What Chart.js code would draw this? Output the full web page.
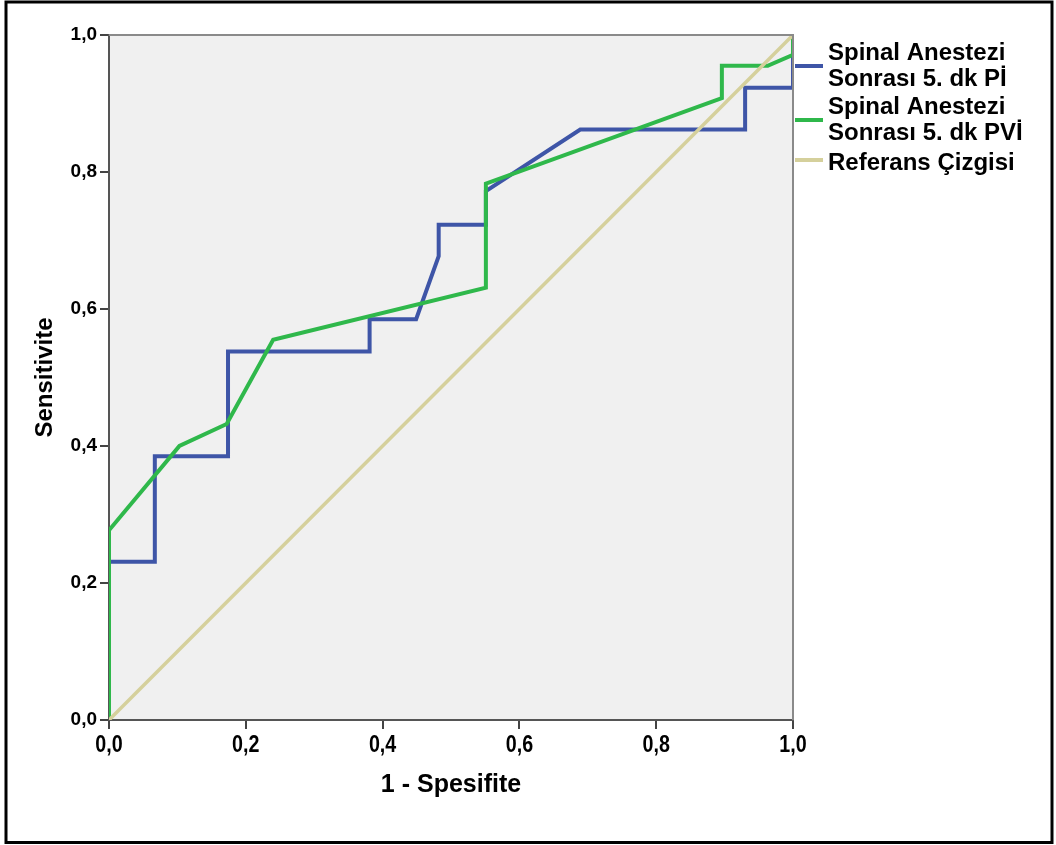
<!DOCTYPE html>
<html>
<head>
<meta charset="utf-8">
<script src="https://cdn.jsdelivr.net/npm/chart.js@4.4.1/dist/chart.umd.min.js"></script>
<style>
  html, body { margin: 0; padding: 0; background: #ffffff; }
  #wrap { width: 1056px; height: 845px; }
</style>
</head>
<body>
<div id="wrap"><canvas id="c" width="1056" height="845"></canvas></div>
<script>
// ---- data ----
const piX  = [0, 0, 0.067, 0.067, 0.174, 0.174, 0.381, 0.381, 0.449, 0.482, 0.482, 0.551, 0.551, 0.689, 0.930, 0.930, 1, 1];
const piY  = [0, 0.231, 0.231, 0.385, 0.385, 0.538, 0.538, 0.585, 0.585, 0.677, 0.723, 0.723, 0.772, 0.862, 0.862, 0.923, 0.923, 1];
const pviX = [0, 0, 0.103, 0.172, 0.240, 0.551, 0.551, 0.896, 0.896, 0.963, 1, 1];
const pviY = [0, 0.277, 0.400, 0.432, 0.555, 0.631, 0.783, 0.908, 0.955, 0.955, 0.971, 1];
const refX = [0, 1];
const refY = [0, 1];
const tickValues = [0, 0.2, 0.4, 0.6, 0.8, 1.0];
const seriesLabels = [
  ["Spinal Anestezi", "Sonrası 5. dk Pİ"],
  ["Spinal Anestezi", "Sonrası 5. dk PVİ"],
  ["Referans Çizgisi"]
];
const xTitle = "1 - Spesifite";
const yTitle = "Sensitivite";

const toPts = (xs, ys) => xs.map((x, i) => ({x: x, y: ys[i]}));
const fmt = v => Number(v).toFixed(1).replace('.', ',');

const COLORS = ['#3E55A7', '#2FB84B', '#D5D09C'];

const framePlugin = {
  id: 'frame',
  beforeDraw(chart) {
    const {ctx, chartArea: a} = chart;
    ctx.save();
    ctx.fillStyle = '#ffffff';
    ctx.fillRect(0, 0, chart.width, chart.height);
    ctx.fillStyle = '#F0F0F0';
    ctx.fillRect(a.left, a.top, a.right - a.left, a.bottom - a.top);
    ctx.restore();
  },
  afterDatasetsDraw(chart) {
    const {ctx, chartArea: a} = chart;
    ctx.save();
    ctx.strokeStyle = '#8a8a8a';
    ctx.lineWidth = 2;
    ctx.beginPath();
    ctx.moveTo(a.left, a.top);
    ctx.lineTo(a.right, a.top);
    ctx.lineTo(a.right, a.bottom);
    ctx.stroke();
    ctx.restore();
  },
  afterDraw(chart) {
    const {ctx, chartArea: a} = chart;
    ctx.save();
    // outer black frame
    ctx.strokeStyle = '#000000';
    ctx.lineWidth = 3;
    ctx.strokeRect(6, 2, 1046, 840.5);
    // condensed x tick labels (taken from the x scale ticks)
    const xs = chart.scales.x;
    ctx.fillStyle = '#000';
    ctx.font = 'bold 24px "Liberation Sans", Arial, sans-serif';
    ctx.textBaseline = 'top';
    ctx.textAlign = 'center';
    xs.ticks.forEach(t => {
      const px = xs.getPixelForValue(t.value);
      ctx.save();
      ctx.translate(px, a.bottom + 13);
      ctx.scale(0.82, 1);
      ctx.fillText(fmt(t.value), 0, 0);
      ctx.restore();
    });
    // legend
    const lineYs = [66, 120, 160];
    const textYs = [[53, 79], [107, 133], [163]];
    chart.data.datasets.forEach((ds, i) => {
      ctx.strokeStyle = ds.borderColor;
      ctx.lineWidth = 4;
      ctx.beginPath();
      ctx.moveTo(a.right + 2, lineYs[i]);
      ctx.lineTo(a.right + 30, lineYs[i]);
      ctx.stroke();
      ctx.fillStyle = '#000000';
      ctx.font = 'bold 24px "Liberation Sans", Arial, sans-serif';
      ctx.textBaseline = 'middle';
      ctx.textAlign = 'left';
      seriesLabels[i].forEach((t, j) => ctx.fillText(t, a.right + 35, textYs[i][j]));
    });
    ctx.restore();
  }
};

new Chart(document.getElementById('c'), {
  type: 'line',
  data: {
    datasets: [
      { label: seriesLabels[0].join(' '), data: toPts(piX, piY), borderColor: COLORS[0], borderWidth: 4, order: 3 },
      { label: seriesLabels[1].join(' '), data: toPts(pviX, pviY), borderColor: COLORS[1], borderWidth: 4, order: 2 },
      { label: seriesLabels[2].join(' '), data: toPts(refX, refY), borderColor: COLORS[2], borderWidth: 3.5, order: 1 }
    ]
  },
  options: {
    responsive: false,
    animation: false,
    elements: {
      line: { tension: 0, fill: false, borderJoinStyle: 'miter', borderCapStyle: 'butt' },
      point: { radius: 0, hoverRadius: 0 }
    },
    layout: { padding: { left: 0, right: 263, top: 35, bottom: 0 } },
    plugins: { legend: { display: false }, tooltip: { enabled: false } },
    scales: {
      x: {
        type: 'linear', min: 0, max: 1,
        afterFit: s => { s.height = 125; },
        afterBuildTicks: s => { s.ticks = tickValues.map(v => ({value: v})); },
        ticks: { display: false },
        grid: { drawOnChartArea: false, drawTicks: true, tickLength: 9, color: '#444', lineWidth: 2 },
        border: { display: true, color: '#555', width: 2 },
        title: {
          display: true, text: xTitle, color: '#000',
          font: { family: '"Liberation Sans", Arial, sans-serif', weight: 'bold', size: 25 },
          padding: { top: 0, bottom: 45 }
        }
      },
      y: {
        type: 'linear', min: 0, max: 1,
        afterFit: s => { s.width = 109; },
        afterBuildTicks: s => { s.ticks = tickValues.map(v => ({value: v})); },
        ticks: {
          callback: v => fmt(v),
          color: '#000',
          padding: 3,
          font: { family: '"Liberation Sans", Arial, sans-serif', weight: 'bold', size: 19 }
        },
        grid: { drawOnChartArea: false, drawTicks: true, tickLength: 9, color: '#444', lineWidth: 2 },
        border: { display: true, color: '#555', width: 2 },
        title: {
          display: true, text: yTitle, color: '#000',
          font: { family: '"Liberation Sans", Arial, sans-serif', weight: 'bold', size: 24 },
          padding: { top: 31, bottom: 0 }
        }
      }
    }
  },
  plugins: [framePlugin]
});
</script>
</body>
</html>
